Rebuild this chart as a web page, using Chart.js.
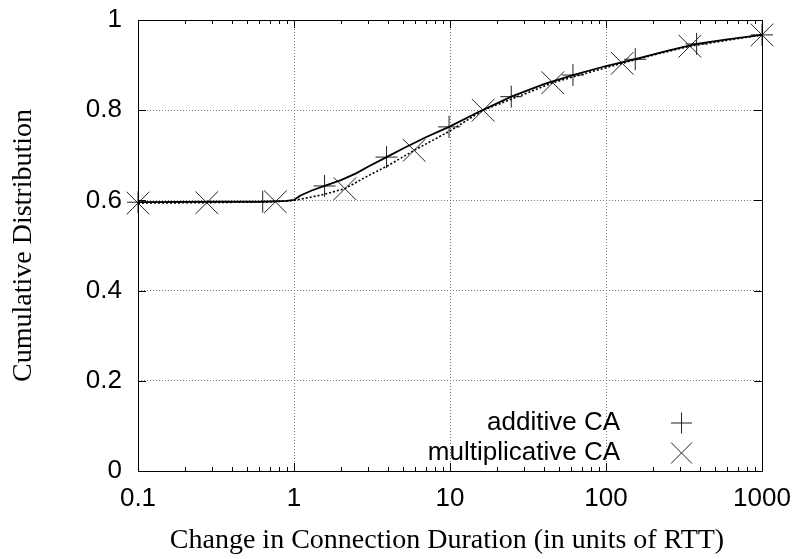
<!DOCTYPE html>
<html>
<head>
<meta charset="utf-8">
<script src="https://cdn.jsdelivr.net/npm/chart.js@4/dist/chart.umd.min.js"></script>
<style>
html,body{margin:0;padding:0;background:#fff;}
#wrap{width:799px;height:559px;position:relative;}
</style>
</head>
<body>
<div id="wrap"><canvas id="c" width="799" height="559"></canvas></div>
<script>
// ---- data ----
const xTickValues = [0.1, 1, 10, 100, 1000];
const yTickValues = [0, 0.2, 0.4, 0.6, 0.8, 1];
const seriesNames = ['additive CA', 'multiplicative CA'];

const additiveX = [0.1, 0.3, 0.6, 0.9, 1.0, 1.1, 1.3, 1.57, 2.0, 2.5, 3.0, 3.92, 5, 7, 9.86, 15, 24.7, 40, 61.4, 100, 154, 250, 381, 600, 1000];
const additiveY = [0.596, 0.597, 0.597, 0.599, 0.601, 0.611, 0.622, 0.632, 0.645, 0.660, 0.675, 0.696, 0.715, 0.740, 0.763, 0.795, 0.830, 0.858, 0.878, 0.898, 0.913, 0.932, 0.947, 0.957, 0.967];

const multX = [0.1, 0.276, 0.76, 1.0, 1.5, 2.12, 3, 4, 5.89, 10, 16.3, 25, 45.6, 80, 127, 200, 345, 600, 1000];
const multY = [0.594, 0.595, 0.597, 0.600, 0.612, 0.626, 0.655, 0.677, 0.711, 0.754, 0.800, 0.825, 0.861, 0.885, 0.904, 0.922, 0.942, 0.955, 0.967];

const additiveMarkX = [0.1, 0.63, 1.57, 3.92, 9.86, 24.7, 61.4, 154, 381, 1000];
const additiveMarkY = [0.596, 0.597, 0.632, 0.696, 0.763, 0.830, 0.878, 0.913, 0.947, 0.967];
const multMarkX = [0.1, 0.276, 0.76, 2.12, 5.89, 16.3, 45.6, 127, 345, 1000];
const multMarkY = [0.594, 0.595, 0.597, 0.626, 0.711, 0.800, 0.861, 0.904, 0.942, 0.967];

const xTitle = 'Change in Connection Duration (in units of RTT)';
const yTitle = 'Cumulative Distribution';

const pts = (xs, ys) => xs.map((x, i) => ({x: x, y: ys[i]}));

const frame = {
  id: 'frame',
  afterDraw(chart) {
    const ctx = chart.ctx, a = chart.chartArea;
    const xs = chart.scales.x, ys = chart.scales.y;
    ctx.save();
    ctx.strokeStyle = '#000';
    ctx.lineWidth = 1;
    // inward ticks
    ctx.beginPath();
    for (let d = -1; d < 3; d++) {
      for (let m = 1; m <= 9; m++) {
        const v = Math.pow(10, d) * m;
        const px = Math.round(xs.getPixelForValue(v)) + 0.5;
        const len = m === 1 ? 8 : 4;
        ctx.moveTo(px, a.bottom); ctx.lineTo(px, a.bottom - len);
        ctx.moveTo(px, a.top); ctx.lineTo(px, a.top + len);
      }
    }
    yTickValues.forEach(v => {
      const py = Math.round(ys.getPixelForValue(v)) + 0.5;
      ctx.moveTo(a.left, py); ctx.lineTo(a.left + 8, py);
      ctx.moveTo(a.right, py); ctx.lineTo(a.right - 8, py);
    });
    ctx.stroke();
    ctx.strokeRect(Math.round(a.left) + 0.5, Math.round(a.top) + 0.5, Math.round(a.right - a.left), Math.round(a.bottom - a.top));
    // axis titles
    ctx.fillStyle = '#000';
    ctx.font = '28px "Liberation Serif", "Times New Roman", serif';
    ctx.textAlign = 'center';
    ctx.textBaseline = 'alphabetic';
    ctx.fillText(xTitle, 447, 548);
    ctx.save();
    ctx.translate(31, (a.top + a.bottom) / 2);
    ctx.rotate(-Math.PI / 2);
    ctx.fillText(yTitle, 0, 0);
    ctx.restore();
    // legend
    ctx.font = '26px "Liberation Sans", Arial, sans-serif';
    ctx.textAlign = 'right';
    ctx.textBaseline = 'middle';
    const ly = [423, 453];
    seriesNames.forEach((n, i) => ctx.fillText(n, 620, ly[i]));
    ctx.beginPath();
    ctx.strokeStyle = '#222';
    ctx.moveTo(671, ly[0]); ctx.lineTo(692, ly[0]);
    ctx.moveTo(681.5, ly[0] - 10.5); ctx.lineTo(681.5, ly[0] + 10.5);
    ctx.moveTo(671, ly[1] - 10.5); ctx.lineTo(692, ly[1] + 10.5);
    ctx.moveTo(671, ly[1] + 10.5); ctx.lineTo(692, ly[1] - 10.5);
    ctx.stroke();
    ctx.restore();
  }
};

new Chart(document.getElementById('c'), {
  type: 'line',
  plugins: [frame],
  data: {
    datasets: [
      {label: seriesNames[0], data: pts(additiveX, additiveY), borderColor: '#000', borderWidth: 1.8, pointRadius: 0, tension: 0, fill: false},
      {label: seriesNames[1], data: pts(multX, multY), borderColor: '#000', borderWidth: 1.6, borderDash: [2, 2], pointRadius: 0, tension: 0, fill: false},
      {label: seriesNames[0] + ' pts', data: pts(additiveMarkX, additiveMarkY), showLine: false, pointStyle: 'cross', pointRadius: 11, pointBorderColor: '#222', pointBorderWidth: 1, clip: false},
      {label: seriesNames[1] + ' pts', data: pts(multMarkX, multMarkY), showLine: false, pointStyle: 'crossRot', pointRadius: 16, pointBorderColor: '#222', pointBorderWidth: 1, clip: false}
    ]
  },
  options: {
    responsive: false,
    animation: false,
    events: [],
    layout: {padding: {left: 0, top: 20, right: 37, bottom: 0}},
    plugins: {legend: {display: false}, tooltip: {enabled: false}},
    scales: {
      x: {
        type: 'logarithmic', min: 0.1, max: 1000,
        afterBuildTicks: s => { s.ticks = xTickValues.map(v => ({value: v})); },
        afterFit: s => { s.height = 88; s.paddingLeft = 0; s.paddingRight = 0; },
        ticks: {callback: v => String(v), color: '#000', font: {family: '"Liberation Sans", Arial, sans-serif', size: 26}, padding: 12, maxRotation: 0, autoSkip: false},
        grid: {color: '#777', drawTicks: false, lineWidth: 1},
        border: {display: false, dash: [1, 2]}
      },
      y: {
        type: 'linear', min: 0, max: 1,
        afterBuildTicks: s => { s.ticks = yTickValues.map(v => ({value: v})); },
        afterFit: s => { s.width = 138; s.paddingTop = 0; s.paddingBottom = 0; },
        ticks: {callback: v => String(Math.round(v * 10) / 10), color: '#000', font: {family: '"Liberation Sans", Arial, sans-serif', size: 26}, padding: 16},
        grid: {color: '#777', drawTicks: false, lineWidth: 1},
        border: {display: false, dash: [1, 2]}
      }
    }
  }
});
</script>
</body>
</html>
